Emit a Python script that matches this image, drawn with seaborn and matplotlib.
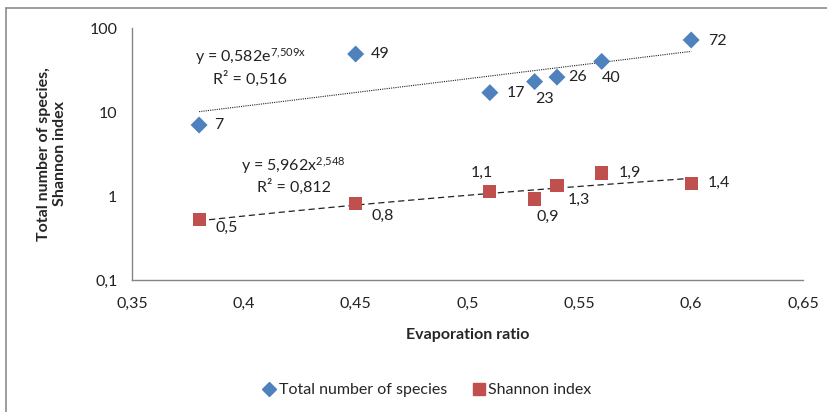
import numpy as np
import pandas as pd
import seaborn as sns
import matplotlib.pyplot as plt
from matplotlib.lines import Line2D
from matplotlib.ticker import FixedLocator, FuncFormatter, LogLocator, NullFormatter

# data
evap = [0.38, 0.45, 0.51, 0.53, 0.54, 0.56, 0.60]
species = [7, 49, 17, 23, 26, 40, 72]
shannon = [0.52, 0.82, 1.12, 0.92, 1.32, 1.88, 1.42]
species_labels = ["7", "49", "17", "23", "26", "40", "72"]
shannon_labels = ["0,5", "0,8", "1,1", "0,9", "1,3", "1,9", "1,4"]

# trendlines as printed on the chart
exp_a, exp_b, exp_r2 = 0.582, 7.509, 0.516
pow_a, pow_b, pow_r2 = 5.962, 2.548, 0.812

x_ticks = [0.35, 0.4, 0.45, 0.5, 0.55, 0.6, 0.65]
y_ticks = [0.1, 1, 10, 100]

# label offsets in pixels (placement only)
species_off = [(20, 0), (25, 0), (26, 0), (10, -17), (21, 0), (9, -17), (26, -1)]
shannon_off = [(28, -8), (27, -13), (-8, 19), (13, -18), (22, -14), (28, 0), (28, 0)]

blue = "#4F81BD"
red = "#C0504D"
grey = "#868686"

sns.set_style("white")
plt.rcParams["font.family"] = ["Lato", "DejaVu Sans"]
plt.rcParams["mathtext.fontset"] = "custom"
plt.rcParams["mathtext.rm"] = "Lato"
plt.rcParams["mathtext.it"] = "Lato:italic"
fs = 11.5

df = pd.DataFrame({"evap": evap, "species": species, "shannon": shannon})

fig = plt.figure(figsize=(8.28, 4.12), dpi=100)
ax = fig.add_axes([132 / 828, 1 - 280 / 412, 671 / 828, 252 / 412])

# trendlines
xs = np.linspace(min(evap), max(evap), 100)
trend = pd.DataFrame({"x": xs,
                      "exp": exp_a * np.exp(exp_b * xs),
                      "pow": pow_a * xs ** pow_b})
sns.lineplot(data=trend, x="x", y="exp", ax=ax, color="#222222", lw=0.8,
             linestyle=(0, (1.0, 1.0)), zorder=2)
sns.lineplot(data=trend, x="x", y="pow", ax=ax, color="#222222", lw=0.9,
             linestyle=(0, (5, 3)), zorder=2)

sns.scatterplot(data=df, x="evap", y="species", marker="D", s=75, color=blue,
                edgecolor="none", ax=ax, zorder=3)
sns.scatterplot(data=df, x="evap", y="shannon", marker="s", s=90, color=red,
                edgecolor="none", ax=ax, zorder=3)

for xv, yv, t, off in zip(evap, species, species_labels, species_off):
    ax.annotate(t, (xv, yv), xytext=off, textcoords="offset pixels",
                ha="center", va="center", fontsize=fs, color="#222222")
for xv, yv, t, off in zip(evap, shannon, shannon_labels, shannon_off):
    ax.annotate(t, (xv, yv), xytext=off, textcoords="offset pixels",
                ha="center", va="center", fontsize=fs, color="#222222")

def comma(v, d):
    return f"{v:.{d}f}".replace(".", ",")

ax.text(0.176, 0.885, "y = " + comma(exp_a, 3) + "e$^{\\mathrm{" + comma(exp_b, 3).replace(",", "{,}") + "x}}$",
        transform=ax.transAxes, ha="center", va="center", fontsize=fs, color="#222222")
ax.text(0.176, 0.80, "R² = " + comma(exp_r2, 3), transform=ax.transAxes,
        ha="center", va="center", fontsize=fs, color="#222222")
ax.text(0.241, 0.456, "y = " + comma(pow_a, 3) + "x$^{\\mathrm{" + comma(pow_b, 3).replace(",", "{,}") + "}}$",
        transform=ax.transAxes, ha="center", va="center", fontsize=fs, color="#222222")
ax.text(0.241, 0.369, "R² = " + comma(pow_r2, 3), transform=ax.transAxes,
        ha="center", va="center", fontsize=fs, color="#222222")

ax.set_yscale("log")
ax.set_xlim(x_ticks[0], x_ticks[-1])
ax.set_ylim(y_ticks[0], y_ticks[-1])
ax.xaxis.set_major_locator(FixedLocator(x_ticks))
ax.xaxis.set_minor_locator(FixedLocator(np.arange(0.35, 0.6501, 0.01)))
ax.xaxis.set_major_formatter(FuncFormatter(lambda v, p: f"{v:g}".replace(".", ",")))
ax.yaxis.set_major_locator(FixedLocator(y_ticks))
ax.yaxis.set_minor_locator(LogLocator(base=10, subs=np.arange(2, 10)))
ax.yaxis.set_major_formatter(FuncFormatter(lambda v, p: f"{v:g}".replace(".", ",")))
ax.yaxis.set_minor_formatter(NullFormatter())

for s in ["top", "right"]:
    ax.spines[s].set_visible(False)
for s in ["left", "bottom"]:
    ax.spines[s].set_color(grey)
    ax.spines[s].set_linewidth(1.0)

ax.tick_params(axis="x", which="major", direction="inout", length=9, color=grey,
               labelsize=fs, pad=8, labelcolor="#222222")
ax.tick_params(axis="x", which="minor", direction="in", length=5, color=grey)
ax.tick_params(axis="y", which="major", direction="inout", length=9, color=grey,
               labelsize=fs, pad=6, labelcolor="#222222")
ax.tick_params(axis="y", which="minor", direction="out", length=4, color=grey)

ax.set_xlabel("Evaporation ratio", fontsize=fs, fontweight="bold", labelpad=12)
ax.set_ylabel("Total number of species,\nShannon index", fontsize=fs,
              fontweight="bold", labelpad=16)

handles = [Line2D([], [], marker="D", color=blue, ls="none", markersize=7),
           Line2D([], [], marker="s", color=red, ls="none", markersize=9)]
fig.legend(handles, ["Total number of species", "Shannon index"], loc="center",
           bbox_to_anchor=(0.515, 0.053), ncol=2, frameon=False, fontsize=fs,
           handletextpad=0.1, columnspacing=1.5, handlelength=1.0)

# chart border (only left/top edges visible in the crop)
fig.add_artist(Line2D([6 / 828, 6 / 828], [0, 1 - 8 / 412], color="#8c8c8c", lw=1.2))
fig.add_artist(Line2D([6 / 828, 1], [1 - 8 / 412, 1 - 8 / 412], color="#8c8c8c", lw=1.2))

fig.savefig("out.png", dpi=100)
